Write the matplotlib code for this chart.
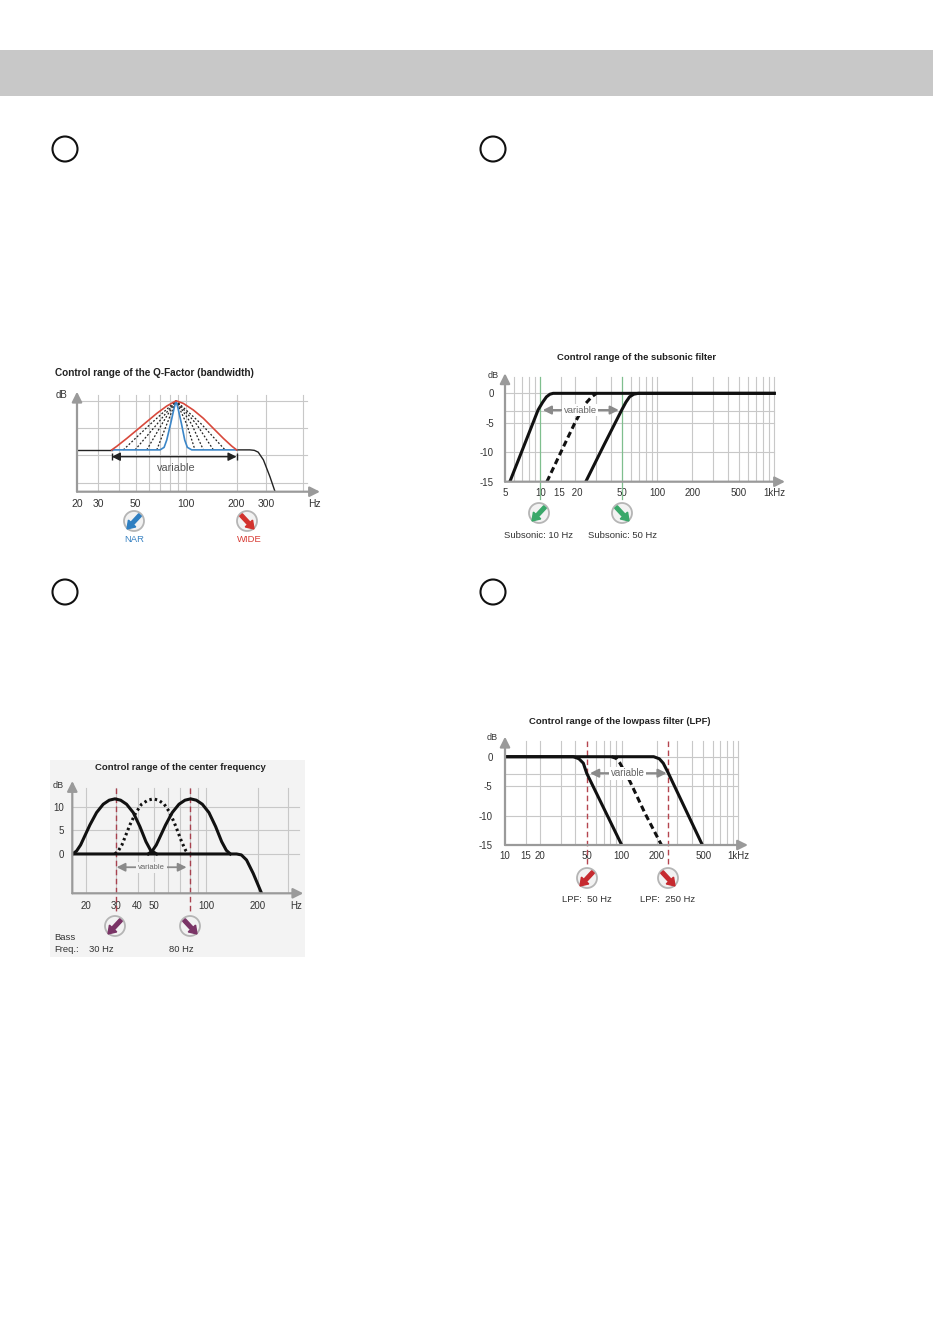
import matplotlib
matplotlib.use('Agg')
import matplotlib.pyplot as plt
from matplotlib.patches import Circle, Rectangle, FancyArrow
from matplotlib.ticker import NullLocator

plt.rcParams['font.family'] = ['Liberation Sans', 'DejaVu Sans']

W, H = 933, 1324

# ---- chart 1: Q-factor (level units, baseline 4.6, peak 10) ----
q_red_f = [36.1, 38.7, 44.4, 50.9, 58.3, 66.9, 76.7, 87.2, 96.4, 110.6, 126.8, 145.5, 166.7, 187, 200]
q_red_y = [4.6, 5.0, 5.87, 6.78, 7.69, 8.61, 9.42, 10.0, 9.71, 8.98, 8.07, 6.96, 5.87, 5.02, 4.6]
q_blue_f = [36.1, 70.0, 74.0, 76.7, 81.0, 84.8, 87.2, 89.6, 93.8, 98.2, 101.8, 108.1, 200]
q_blue_y = [4.6, 4.6, 4.88, 5.68, 7.51, 9.16, 10.0, 9.16, 7.51, 5.68, 4.88, 4.6, 4.6]
q_dot_f = [[42.3, 61, 87.2, 124, 170.7],
           [49.7, 66.9, 87.2, 115.7, 145.5],
           [58.3, 71.6, 87.2, 108.1, 126.8],
           [66.9, 76.7, 87.2, 101, 113]]
q_dot_y = [4.6, 7.4, 10.0, 7.4, 4.6]
q_base_left_f = [22.4, 36.1]
q_base_left_y = [4.6, 4.6]
q_base_right_f = [200, 240, 255, 269, 289, 316, 339]
q_base_right_y = [4.6, 4.6, 4.55, 4.35, 3.5, 1.65, 0]
q_var = [36.1, 200]
q_ticks = [22.4, 30, 50, 100, 200, 300, 579]
q_labels = ['20', '30', '50', '100', '200', '300', 'Hz']
q_vgrid = [30, 40, 50, 60, 70, 80, 90, 100, 200, 300, 500]
q_hgrid = [1, 4, 7, 10]

# ---- chart 2: subsonic filter (dB) ----
hp10_f = [5.5, 7.3, 9.6, 10.5, 11.3, 12.1, 12.9, 1000]
hp10_y = [-15, -8.8, -2.8, -1.5, -0.6, -0.15, 0, 0]
hp50_f = [24.5, 35, 49.8, 54, 58, 63, 68.8, 1000]
hp50_y = [-15, -8.8, -2.8, -1.5, -0.6, -0.15, 0, 0]
hpmid_f = [11.4, 15, 19.8, 24, 27.5, 30.3]
hpmid_y = [-15, -10, -5, -1.9, -0.6, 0]
sub_var = [10.5, 47]
sub_marks = [10, 50]
sub_ticks = [5, 10, 15, 20, 50, 100, 200, 500, 1000]
sub_labels = ['5', '10', '15 ', ' 20', '50', '100', '200', '500', '1kHz']
sub_vgrid = [6, 7, 8, 9, 15, 20, 30, 40, 60, 70, 80, 90, 100,
             200, 300, 400, 500, 600, 700, 800, 900, 1000]
sub_hgrid = [0, -3, -5, -10]
db_ticks = [0, -5, -10, -15]

# ---- chart 3: center frequency (dB) ----
bell30_f = [16.76, 17.68, 18.66, 21.13, 23.10, 25.25, 27.36, 29.51, 31.84, 34.49, 37.71, 41.22, 44.67, 47.53, 51.5]
bell30_y = [0, 0.63, 1.9, 6.13, 8.74, 10.5, 11.35, 11.63, 11.35, 10.5, 8.74, 5.78, 2.61, 0.78, 0]
bell50_f = [29.51, 30.86, 32.41, 36.06, 39.07, 42.16, 45.86, 49.27, 52.9, 57.06, 61.53, 66.68, 71.94, 75.89, 78.62]
bell50_y = [0, 0.63, 1.9, 6.13, 8.74, 10.5, 11.35, 11.63, 11.35, 10.5, 8.74, 5.78, 2.61, 0.78, 0]
bell80_f = [46.1, 48.6, 51.3, 58.1, 63.5, 69.5, 75.3, 81.2, 87.6, 94.9, 103.7, 113.4, 122.9, 130.8, 138.0]
bell80_y = [0, 0.63, 1.9, 6.13, 8.74, 10.5, 11.35, 11.63, 11.35, 10.5, 8.74, 5.78, 2.61, 0.78, 0]
cf_base_f = [16.7, 150, 160, 171.4, 187.4, 209.6]
cf_base_y = [0, 0, -0.2, -1.27, -4.1, -8.3]
cf_var = [30.2, 76.9]
cf_marks = [30, 80]
cf_ticks = [20, 30, 40, 50, 100, 200, 334.6]
cf_labels = ['20', '30', '40', '50', '100', '200', 'Hz']
cf_vgrid = [20, 30, 40, 50, 60, 70, 80, 90, 100, 200, 300]
cf_hgrid = [0, 5, 10]

# ---- chart 4: lowpass filter (dB) ----
lp50_f = [10, 38.5, 43, 46.9, 50.1, 100]
lp50_y = [0, 0, -0.35, -1.1, -2.8, -15]
lp250_f = [10, 188, 210, 227, 251, 491]
lp250_y = [0, 0, -0.35, -1.1, -2.8, -15]
lpmid_f = [82, 90, 96.6, 117.7, 158.2, 219]
lpmid_y = [0, -0.3, -1.1, -4.2, -9.6, -15]
lpf_var = [53.5, 243]
lpf_marks = [50, 250]
lpf_ticks = [10, 15, 20, 50, 100, 200, 500, 1000]
lpf_labels = ['10', '15', '20', '50', '100', '200', '500', '1kHz']
lpf_vgrid = [15, 20, 30, 40, 60, 70, 80, 90, 100,
             200, 300, 400, 500, 600, 700, 800, 900, 1000]
lpf_hgrid = [0, -3, -5, -10]

GRID = '#c8c8c8'
AXC = '#9a9a9a'
TXT = '#333333'

fig = plt.figure(figsize=(W / 100, H / 100), dpi=100)


def box(x0, y0, x1, y1, z=2):
    return fig.add_axes([x0 / W, 1 - y1 / H, (x1 - x0) / W, (y1 - y0) / H], zorder=z)


def overlay(z):
    a = box(0, 0, W, H, z)
    a.set_xlim(0, W)
    a.set_ylim(H, 0)
    a.axis('off')
    a.set_facecolor('none')
    return a


bg = overlay(0)
top = overlay(5)


def frame(ax, xlim, ylim):
    ax.set_xscale('log')
    ax.set_xlim(*xlim)
    ax.set_ylim(*ylim)
    ax.set_facecolor('none')
    for s in ax.spines.values():
        s.set_visible(False)
    ax.xaxis.set_minor_locator(NullLocator())
    ax.tick_params(length=0, labelsize=7, colors=TXT)
    for xy in [(1, 0), (0, 1)]:
        ax.annotate('', xy=xy, xytext=(0, 0), xycoords='axes fraction',
                    arrowprops=dict(arrowstyle='-|>,head_length=0.6,head_width=0.3',
                                    color=AXC, lw=1.6, shrinkA=0, shrinkB=0),
                    annotation_clip=False, zorder=6)


def grid(ax, vlines, hlines, x0, x1, y0, y1):
    for f in vlines:
        ax.plot([f, f], [y0, y1], color=GRID, lw=0.8, zorder=1)
    for y in hlines:
        ax.plot([x0, x1], [y, y], color=GRID, lw=0.8, zorder=1)


def icon(cx, cy, color, right):
    top.add_patch(Circle((cx, cy), 10, facecolor='#f2f2f2', edgecolor='#b5b5b5', lw=1.3, zorder=6))
    s = 1 if right else -1
    top.add_patch(FancyArrow(cx - 6 * s, cy - 6, 13 * s, 14, width=3.6, head_width=10,
                             head_length=7.5, length_includes_head=True,
                             color=color, zorder=7))


def var_arrow(ax, rng, y, color, lw):
    ax.annotate('', xy=(rng[1], y), xytext=(rng[0], y),
                arrowprops=dict(arrowstyle='<|-|>,head_length=0.5,head_width=0.25',
                                color=color, lw=lw, shrinkA=0, shrinkB=0), zorder=4)


# header bar and numbered circles
bg.add_patch(Rectangle((0, 50), W, 46, color='#c8c8c8', lw=0))
for cx, cy in [(65, 149), (493, 149), (65, 592), (493, 592)]:
    top.add_patch(Circle((cx, cy), 12.5, fill=False, edgecolor='#111111', lw=1.5))

# ---------------- chart 1 ----------------
ax1 = box(77, 391.7, 320, 491.7)
frame(ax1, (22.4, 628), (0, 11))
grid(ax1, q_vgrid, q_hgrid, 22.4, 524, 0, 10.6)
ax1.set_yticks([])
ax1.set_xticks(q_ticks, q_labels)
ax1.tick_params(axis='x', pad=5, labelsize=7.5)
ax1.plot(q_base_left_f, q_base_left_y, color='#222222', lw=1.0, zorder=3)
ax1.plot(q_base_right_f, q_base_right_y, color='#222222', lw=1.0, zorder=3)
for fs in q_dot_f:
    ax1.plot(fs, q_dot_y, color='#222222', lw=0.9, ls=(0, (1.5, 1.5)), zorder=3)
ax1.plot(q_blue_f, q_blue_y, color='#3b86c8', lw=1.2, zorder=4)
ax1.plot(q_red_f, q_red_y, color='#d8493c', lw=1.2, zorder=4)
var_arrow(ax1, q_var, 3.85, '#222222', 1.0)
ax1.vlines(q_var, 3.45, 4.25, color='#222222', lw=1.0, zorder=4)
ax1.text(87.2, 2.57, 'variable', ha='center', va='center', fontsize=7.8, color='#555555')
top.text(55, 373, 'Control range of the Q-Factor (bandwidth)', ha='left', va='center',
         fontsize=7.2, fontweight='bold', color='#222222')
top.text(62, 395, 'dB', ha='center', va='center', fontsize=7, color=TXT)
icon(134, 521, '#2f7fc1', False)
icon(247, 521, '#d2322d', True)
top.text(134, 540, 'NAR', ha='center', va='center', fontsize=6.8, color='#3b84c4')
top.text(249, 540, 'WIDE', ha='center', va='center', fontsize=6.8, color='#d83c35')

# ---------------- chart 2 ----------------
ax2 = box(505, 373.3, 785, 481.7)
frame(ax2, (5, 1236), (-15, 3.4))
grid(ax2, sub_vgrid, sub_hgrid, 5, 1000, -15, 2.8)
for f in sub_marks:
    ax2.plot([f, f], [2.8, -18.0], color='#7fbf8e', lw=0.9, zorder=2, clip_on=False)
ax2.set_yticks(db_ticks, [str(v) for v in db_ticks])
ax2.set_xticks(sub_ticks, sub_labels)
ax2.tick_params(axis='x', pad=4.5)
ax2.tick_params(axis='y', pad=8)
ax2.plot(hp10_f, hp10_y, color='#111111', lw=2.2, zorder=3)
ax2.plot(hp50_f, hp50_y, color='#111111', lw=2.2, zorder=3)
ax2.plot(hpmid_f, hpmid_y, color='#111111', lw=2.2, ls=(0, (2, 1.2)), zorder=3)
var_arrow(ax2, sub_var, -2.84, '#8a8a8a', 1.5)
ax2.text(22, -2.84, 'variable', ha='center', va='center', fontsize=6.8, color='#666666',
         bbox=dict(boxstyle='square,pad=0.15', fc='white', ec='none'), zorder=5)
top.text(637, 357, 'Control range of the subsonic filter', ha='center', va='center',
         fontsize=6.8, fontweight='bold', color='#222222')
top.text(493, 376, 'dB', ha='center', va='center', fontsize=6.5, color=TXT)
icon(539, 513, '#3aa86a', False)
icon(622, 513, '#3aa86a', True)
top.text(539, 536, 'Subsonic: 10 Hz', ha='center', va='center', fontsize=6.8, color=TXT)
top.text(623, 536, 'Subsonic: 50 Hz', ha='center', va='center', fontsize=6.8, color=TXT)

# ---------------- chart 3 ----------------
bg.add_patch(Rectangle((50, 760), 255, 197, color='#f3f3f3', lw=0))
ax3 = box(72.3, 781, 303.3, 893.3)
frame(ax3, (16.7, 366), (-8.3, 15.4))
grid(ax3, cf_vgrid, cf_hgrid, 16.7, 345, -8.3, 14)
for f in cf_marks:
    ax3.plot([f, f], [14, -12.6], color='#a8424f', lw=1.0, ls=(0, (4, 2.5)),
             zorder=2, clip_on=False)
ax3.set_yticks(cf_hgrid, [str(v) for v in cf_hgrid])
ax3.set_xticks(cf_ticks, cf_labels)
ax3.tick_params(axis='x', pad=5.5)
ax3.tick_params(axis='y', pad=6)
ax3.plot(cf_base_f, cf_base_y, color='#111111', lw=2.2, zorder=3)
ax3.plot(bell30_f, bell30_y, color='#111111', lw=2.2, zorder=3)
ax3.plot(bell80_f, bell80_y, color='#111111', lw=2.2, zorder=3)
ax3.plot(bell50_f, bell50_y, color='#111111', lw=2.2, ls=(0, (0.8, 1.0)), zorder=3)
var_arrow(ax3, cf_var, -2.8, '#8a8a8a', 1.3)
ax3.text(48.2, -2.8, 'variable', ha='center', va='center', fontsize=5.5, color='#666666',
         bbox=dict(boxstyle='square,pad=0.25', fc='#f3f3f3', ec='none'), zorder=5)
top.text(180, 768, 'Control range of the center frequency', ha='center', va='center',
         fontsize=6.8, fontweight='bold', color='#222222')
top.text(58, 785, 'dB', ha='center', va='center', fontsize=6.5, color=TXT)
icon(115, 926, '#7a3466', False)
icon(190, 926, '#7a3466', True)
top.text(54, 937, 'Bass', ha='left', va='center', fontsize=6.8, color=TXT)
top.text(54, 949, 'Freq.:', ha='left', va='center', fontsize=6.8, color=TXT)
top.text(89, 949, '30 Hz', ha='left', va='center', fontsize=6.8, color=TXT)
top.text(181, 949, '80 Hz', ha='center', va='center', fontsize=6.8, color=TXT)

# ---------------- chart 4 ----------------
ax4 = box(505, 736.7, 748, 845)
frame(ax4, (10, 1208), (-15, 3.4))
grid(ax4, lpf_vgrid, lpf_hgrid, 10, 1000, -15, 2.6)
for f in lpf_marks:
    ax4.plot([f, f], [2.6, -18.3], color='#b5454f', lw=1.0, ls=(0, (4, 2.5)),
             zorder=2, clip_on=False)
ax4.set_yticks(db_ticks, [str(v) for v in db_ticks])
ax4.set_xticks(lpf_ticks, lpf_labels)
ax4.tick_params(axis='x', pad=4.5)
ax4.tick_params(axis='y', pad=9)
ax4.plot(lp50_f, lp50_y, color='#111111', lw=2.2, zorder=3)
ax4.plot(lp250_f, lp250_y, color='#111111', lw=2.2, zorder=3)
ax4.plot(lpmid_f, lpmid_y, color='#111111', lw=2.2, ls=(0, (2, 1.2)), zorder=3)
var_arrow(ax4, lpf_var, -2.8, '#8a8a8a', 1.5)
ax4.text(112, -2.8, 'variable', ha='center', va='center', fontsize=7, color='#666666',
         bbox=dict(boxstyle='square,pad=0.15', fc='white', ec='none'), zorder=5)
top.text(620, 721, 'Control range of the lowpass filter (LPF)', ha='center', va='center',
         fontsize=6.8, fontweight='bold', color='#222222')
top.text(492, 738, 'dB', ha='center', va='center', fontsize=6.5, color=TXT)
icon(587, 878, '#c62a2f', False)
icon(668, 878, '#c62a2f', True)
top.text(587, 899, 'LPF:  50 Hz', ha='center', va='center', fontsize=6.8, color=TXT)
top.text(668, 899, 'LPF:  250 Hz', ha='center', va='center', fontsize=6.8, color=TXT)

fig.savefig('out.png', dpi=100)
